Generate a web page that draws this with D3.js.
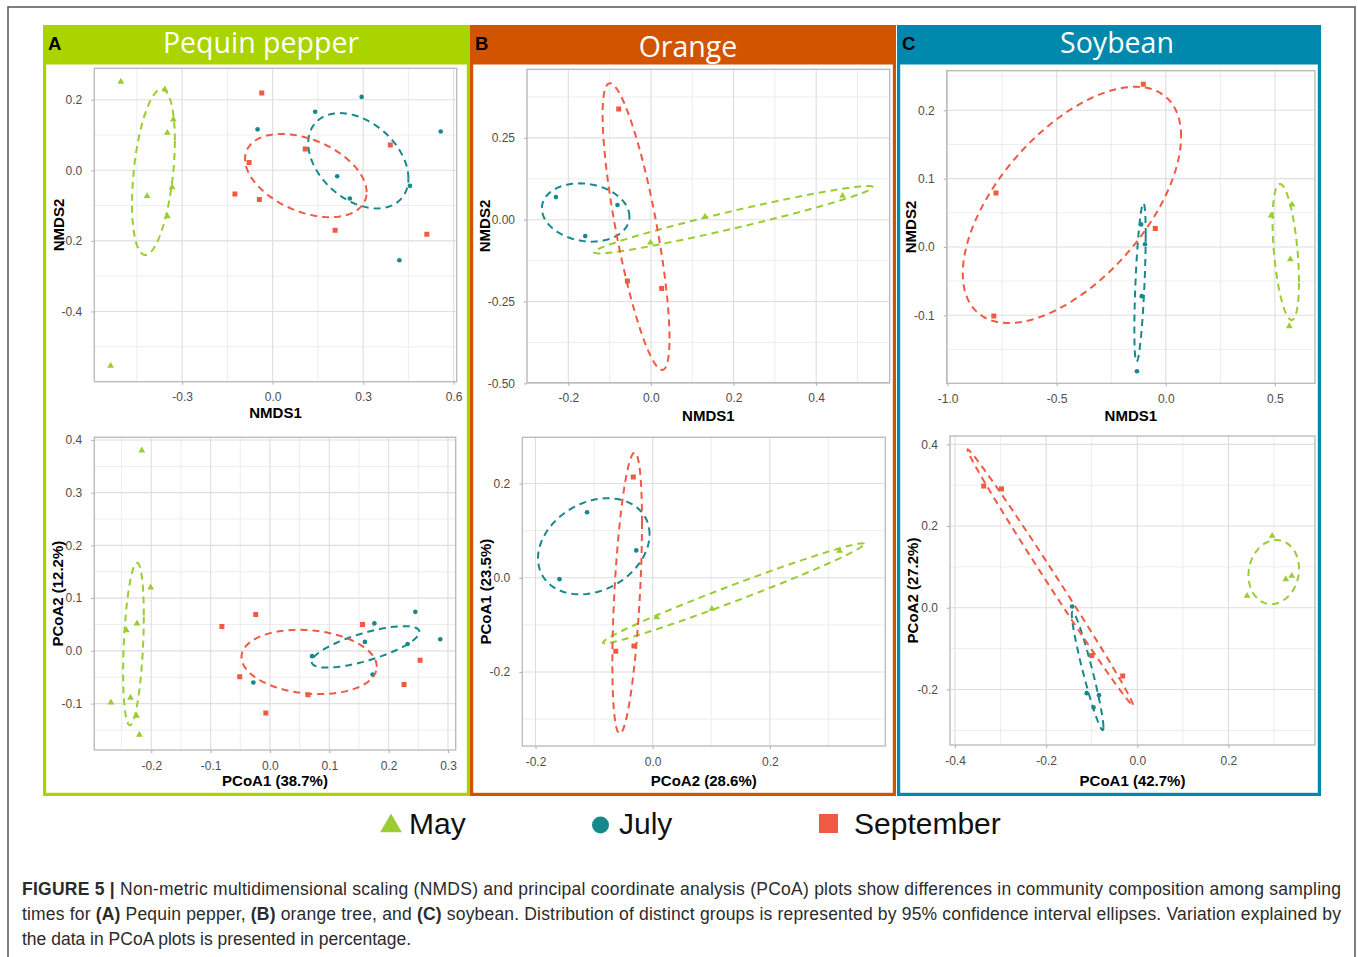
<!DOCTYPE html>
<html>
<head>
<meta charset="utf-8">
<script src="https://cdn.jsdelivr.net/npm/d3@7"></script>
<style>
  body { margin: 0; background: #fff; }
  svg text { font-family: "Liberation Sans", Arial, sans-serif; }
</style>
</head>
<body>
<svg id="fig" width="1358" height="957"></svg>
<script>
// ---- data ----
const groups = ["May", "July", "September"];

// A: Pequin pepper, NMDS
const pepperNmdsMay = [[-0.503, 0.251], [-0.357, 0.229], [-0.329, 0.144], [-0.349, 0.106], [-0.333, -0.048], [-0.416, -0.073], [-0.349, -0.130], [-0.537, -0.554]];
const pepperNmdsJuly = [[-0.050, 0.116], [0.141, 0.166], [0.295, 0.208], [0.557, 0.110], [0.214, -0.017], [0.455, -0.044], [0.256, -0.080], [0.420, -0.255]];
const pepperNmdsSeptember = [[-0.036, 0.219], [0.108, 0.060], [0.390, 0.072], [-0.078, 0.022], [-0.125, -0.067], [-0.044, -0.083], [0.207, -0.170], [0.511, -0.181]];
// ellipse: centre, half extent in x and y, correlation
const pepperNmdsEllipses = [
  { group: "May", cx: -0.395, cy: -0.005, hx: 0.071, hy: 0.235, r: 0.38 },
  { group: "July", cx: 0.284, cy: 0.027, hx: 0.166, hy: 0.135, r: -0.37 },
  { group: "September", cx: 0.110, cy: -0.015, hx: 0.2015, hy: 0.118, r: -0.40 }
];
const pepperNmdsXTicks = [-0.3, 0, 0.3, 0.6];
const pepperNmdsYTicks = [-0.4, -0.2, 0, 0.2];

// A: Pequin pepper, PCoA
const pepperPcoaMay = [[-0.216, 0.380], [-0.201, 0.120], [-0.224, 0.052], [-0.242, 0.039], [-0.268, -0.098], [-0.235, -0.089], [-0.225, -0.123], [-0.220, -0.159]];
const pepperPcoaJuly = [[0.245, 0.074], [0.176, 0.052], [0.160, 0.017], [0.287, 0.022], [0.232, 0.013], [0.071, -0.010], [0.173, -0.045], [-0.028, -0.060]];
const pepperPcoaSeptember = [[-0.024, 0.069], [-0.081, 0.046], [0.156, 0.050], [0.253, -0.018], [-0.051, -0.049], [0.064, -0.083], [0.226, -0.064], [-0.007, -0.118]];
const pepperPcoaEllipses = [
  { group: "May", cx: -0.230, cy: 0.013, hx: 0.0174, hy: 0.154, r: 0.35 },
  { group: "July", cx: 0.161, cy: 0.0076, hx: 0.0907, hy: 0.0393, r: 0.72 },
  { group: "September", cx: 0.066, cy: -0.021, hx: 0.114, hy: 0.061, r: -0.15 }
];
const pepperPcoaXTicks = [-0.2, -0.1, 0, 0.1, 0.2, 0.3];
const pepperPcoaYTicks = [-0.1, 0, 0.1, 0.2, 0.3, 0.4];

// B: Orange, NMDS
const orangeNmdsMay = [[-0.001, -0.070], [0.131, 0.009], [0.464, 0.073]];
const orangeNmdsJuly = [[-0.230, 0.069], [-0.081, 0.045], [-0.159, -0.050]];
const orangeNmdsSeptember = [[-0.078, 0.338], [-0.057, -0.187], [0.026, -0.210]];
const orangeNmdsEllipses = [
  { group: "May", cx: 0.1996, cy: 0.0, hx: 0.3375, hy: 0.103, r: 0.965 },
  { group: "July", cx: -0.158, cy: 0.022, hx: 0.106, hy: 0.089, r: -0.14 },
  { group: "September", cx: -0.036, cy: -0.021, hx: 0.081, hy: 0.438, r: -0.78 }
];
const orangeNmdsXTicks = [-0.2, 0, 0.2, 0.4];
const orangeNmdsYTicks = [-0.5, -0.25, 0, 0.25];

// B: Orange, PCoA
const orangePcoaMay = [[0.007, -0.084], [0.101, -0.066], [0.319, 0.057]];
const orangePcoaJuly = [[-0.112, 0.139], [-0.028, 0.058], [-0.159, -0.003]];
const orangePcoaSeptember = [[-0.033, 0.214], [-0.063, -0.156], [-0.032, -0.145]];
const orangePcoaEllipses = [
  { group: "May", cx: 0.138, cy: -0.033, hx: 0.2227, hy: 0.106, r: 0.985 },
  { group: "July", cx: -0.1005, cy: 0.0667, hx: 0.0952, hy: 0.102, r: 0.25 },
  { group: "September", cx: -0.0435, cy: -0.0325, hx: 0.0253, hy: 0.298, r: 0.5 }
];
const orangePcoaXTicks = [-0.2, 0, 0.2];
const orangePcoaYTicks = [-0.2, 0, 0.2];

// C: Soybean, NMDS
const soybeanNmdsMay = [[0.483, 0.046], [0.579, 0.062], [0.571, -0.018], [0.566, -0.116]];
const soybeanNmdsJuly = [[-0.113, 0.033], [-0.095, 0.004], [-0.110, -0.072], [-0.132, -0.182]];
const soybeanNmdsSeptember = [[-0.103, 0.238], [-0.778, 0.079], [-0.048, 0.027], [-0.788, -0.101]];
const soybeanNmdsEllipses = [
  { group: "May", cx: 0.550, cy: -0.0073, hx: 0.0605, hy: 0.0996, r: -0.44 },
  { group: "July", cx: -0.118, cy: -0.052, hx: 0.026, hy: 0.116, r: 0.6 },
  { group: "September", cx: -0.430, cy: 0.0615, hx: 0.5005, hy: 0.173, r: 0.58 }
];
const soybeanNmdsXTicks = [-1.0, -0.5, 0, 0.5];
const soybeanNmdsYTicks = [-0.1, 0, 0.1, 0.2];

// C: Soybean, PCoA
const soybeanPcoaMay = [[0.296, 0.176], [0.339, 0.078], [0.326, 0.070], [0.241, 0.029]];
const soybeanPcoaJuly = [[-0.143, 0.003], [-0.111, -0.209], [-0.084, -0.214], [-0.096, -0.244]];
const soybeanPcoaSeptember = [[-0.337, 0.298], [-0.298, 0.291], [-0.100, -0.117], [-0.032, -0.167]];
const soybeanPcoaEllipses = [
  { group: "May", cx: 0.2995, cy: 0.0874, hx: 0.0555, hy: 0.0784, r: 0.1 },
  { group: "July", cx: -0.109, cy: -0.1545, hx: 0.0347, hy: 0.145, r: -0.95 },
  { group: "September", cx: -0.191, cy: 0.0747, hx: 0.1816, hy: 0.313, r: -0.997 }
];
const soybeanPcoaXTicks = [-0.4, -0.2, 0, 0.2];
const soybeanPcoaYTicks = [-0.2, 0, 0.2, 0.4];

// ---- styles / layout ----
const groupColor = { May: "#9acd32", July: "#17898b", September: "#f15a42" };
const groupSymbol = { May: d3.symbolTriangle, July: d3.symbolCircle, September: d3.symbolSquare };
const pointSize = { May: 20, July: 17, September: 25 };

const panels = [
  { letter: "A", title: "Pequin pepper", color: "#aad400", left: 43, right: 470, titleX: 261, titleY: 53 },
  { letter: "B", title: "Orange", color: "#d35400", left: 470, right: 896, titleX: 688, titleY: 57 },
  { letter: "C", title: "Soybean", color: "#0088ad", left: 897, right: 1321, titleX: 1117, titleY: 53 }
];

const plots = [
  { rect: [94.3, 68.3, 456.7, 381.7], xDomain: [-0.591, 0.610], yDomain: [-0.599, 0.289],
    xTicks: pepperNmdsXTicks, yTicks: pepperNmdsYTicks, xDec: 1, yDec: 1,
    xTitle: "NMDS1", yTitle: "NMDS2", xTitleY: 418, yTitleX: 63.5,
    series: { May: pepperNmdsMay, July: pepperNmdsJuly, September: pepperNmdsSeptember }, ellipses: pepperNmdsEllipses },
  { rect: [94.3, 437.3, 455.7, 750], xDomain: [-0.296, 0.313], yDomain: [-0.188, 0.405],
    xTicks: pepperPcoaXTicks, yTicks: pepperPcoaYTicks, xDec: 1, yDec: 1,
    xTitle: "PCoA1 (38.7%)", yTitle: "PCoA2 (12.2%)", xTitleY: 786, yTitleX: 63.3,
    series: { May: pepperPcoaMay, July: pepperPcoaJuly, September: pepperPcoaSeptember }, ellipses: pepperPcoaEllipses },
  { rect: [527, 69.3, 889.7, 382.7], xDomain: [-0.300, 0.578], yDomain: [-0.498, 0.4595],
    xTicks: orangeNmdsXTicks, yTicks: orangeNmdsYTicks, xDec: 1, yDec: 2,
    xTitle: "NMDS1", yTitle: "NMDS2", xTitleY: 421, yTitleX: 489.7,
    series: { May: orangeNmdsMay, July: orangeNmdsJuly, September: orangeNmdsSeptember }, ellipses: orangeNmdsEllipses },
  { rect: [522.3, 437.3, 885.3, 746], xDomain: [-0.2225, 0.397], yDomain: [-0.357, 0.298],
    xTicks: orangePcoaXTicks, yTicks: orangePcoaYTicks, xDec: 1, yDec: 1,
    xTitle: "PCoA2 (28.6%)", yTitle: "PCoA1 (23.5%)", xTitleY: 786, yTitleX: 490.7,
    series: { May: orangePcoaMay, July: orangePcoaJuly, September: orangePcoaSeptember }, ellipses: orangePcoaEllipses },
  { rect: [946.7, 70.7, 1315, 383.3], xDomain: [-1.004, 0.684], yDomain: [-0.1996, 0.258],
    xTicks: soybeanNmdsXTicks, yTicks: soybeanNmdsYTicks, xDec: 1, yDec: 1,
    xTitle: "NMDS1", yTitle: "NMDS2", xTitleY: 421, yTitleX: 915.7,
    series: { May: soybeanNmdsMay, July: soybeanNmdsJuly, September: soybeanNmdsSeptember }, ellipses: soybeanNmdsEllipses },
  { rect: [950, 436, 1315, 745], xDomain: [-0.411, 0.390], yDomain: [-0.336, 0.4205],
    xTicks: soybeanPcoaXTicks, yTicks: soybeanPcoaYTicks, xDec: 1, yDec: 1,
    xTitle: "PCoA1 (42.7%)", yTitle: "PCoA2 (27.2%)", xTitleY: 786, yTitleX: 918.3,
    series: { May: soybeanPcoaMay, July: soybeanPcoaJuly, September: soybeanPcoaSeptember }, ellipses: soybeanPcoaEllipses }
];

const svg = d3.select("#fig");

// outer frame
svg.append("rect")
  .attr("x", 8).attr("y", 7).attr("width", 1347).attr("height", 970)
  .attr("fill", "none").attr("stroke", "#555").attr("stroke-width", 1.5);

// panel frames + headers
panels.forEach(p => {
  svg.append("rect")
    .attr("x", p.left + 1.6).attr("y", 26.6)
    .attr("width", p.right - p.left - 3.2).attr("height", 796 - 26.6 - 1.6)
    .attr("fill", "#fff").attr("stroke", p.color).attr("stroke-width", 3.2);
  svg.append("rect")
    .attr("x", p.left).attr("y", 25)
    .attr("width", p.right - p.left).attr("height", 39.5)
    .attr("fill", p.color);
  svg.append("text")
    .attr("x", p.left + 5).attr("y", 50)
    .attr("font-size", 18.5).attr("font-weight", "bold").attr("fill", "#000")
    .text(p.letter);
  svg.append("text")
    .attr("x", p.titleX).attr("y", p.titleY)
    .attr("text-anchor", "middle")
    .style("font-family", "'Open Sans', sans-serif")
    .attr("font-size", 28.5).attr("fill", "#fff")
    .text(p.title);
});

// minor grid positions: halfway between major ticks, inside the domain
function minorTicks(ticks, domain) {
  const step = ticks[1] - ticks[0];
  const out = [];
  for (let v = ticks[0] - step / 2; v <= domain[1] + 1e-9; v += step) {
    if (v >= domain[0] - 1e-9) out.push(v);
  }
  return out;
}

function ellipsePoints(e) {
  const s = Math.sqrt(1 - e.r * e.r);
  return d3.range(0, 101).map(i => {
    const t = (i / 100) * 2 * Math.PI;
    return [e.cx + e.hx * Math.cos(t), e.cy + e.hy * (e.r * Math.cos(t) + s * Math.sin(t))];
  });
}

plots.forEach((p, i) => {
  const [l, t, r, b] = p.rect;
  const x = d3.scaleLinear().domain(p.xDomain).range([l, r]);
  const y = d3.scaleLinear().domain(p.yDomain).range([b, t]);
  const g = svg.append("g");

  // grid
  const grid = g.append("g");
  grid.selectAll(".xminor").data(minorTicks(p.xTicks, p.xDomain)).join("line")
    .attr("x1", d => x(d)).attr("x2", d => x(d)).attr("y1", t).attr("y2", b)
    .attr("stroke", "#e8e8e8").attr("stroke-width", 0.8);
  grid.selectAll(".yminor").data(minorTicks(p.yTicks, p.yDomain)).join("line")
    .attr("y1", d => y(d)).attr("y2", d => y(d)).attr("x1", l).attr("x2", r)
    .attr("stroke", "#e8e8e8").attr("stroke-width", 0.8);
  grid.selectAll(".xmajor").data(p.xTicks).join("line")
    .attr("x1", d => x(d)).attr("x2", d => x(d)).attr("y1", t).attr("y2", b)
    .attr("stroke", "#dedede").attr("stroke-width", 1.1);
  grid.selectAll(".ymajor").data(p.yTicks).join("line")
    .attr("y1", d => y(d)).attr("y2", d => y(d)).attr("x1", l).attr("x2", r)
    .attr("stroke", "#dedede").attr("stroke-width", 1.1);

  // axes
  const xAxis = g.append("g")
    .attr("transform", `translate(0,${b})`)
    .call(d3.axisBottom(x).tickValues(p.xTicks).tickSize(3).tickPadding(8)
      .tickFormat(d => d.toFixed(p.xDec)));
  const yAxis = g.append("g")
    .attr("transform", `translate(${l},0)`)
    .call(d3.axisLeft(y).tickValues(p.yTicks).tickSize(3).tickPadding(9)
      .tickFormat(d => d.toFixed(p.yDec)));
  [xAxis, yAxis].forEach(a => {
    a.select(".domain").remove();
    a.attr("font-family", null).attr("font-size", null);
    a.selectAll(".tick line").attr("stroke", "#b3b3b3").attr("stroke-width", 1.1);
    a.selectAll(".tick text").attr("fill", "#4d4d4d").attr("font-size", 12);
  });

  // panel border
  g.append("rect")
    .attr("x", l).attr("y", t).attr("width", r - l).attr("height", b - t)
    .attr("fill", "none").attr("stroke", "#b8b8b8").attr("stroke-width", 1.3);

  // axis titles
  g.append("text")
    .attr("x", (l + r) / 2).attr("y", p.xTitleY)
    .attr("text-anchor", "middle").attr("font-size", 15).attr("font-weight", "bold")
    .attr("fill", "#000").text(p.xTitle);
  g.append("text")
    .attr("transform", `translate(${p.yTitleX},${(t + b) / 2}) rotate(-90)`)
    .attr("text-anchor", "middle").attr("font-size", 15).attr("font-weight", "bold")
    .attr("fill", "#000").text(p.yTitle);

  // clip
  const clipId = "clip" + i;
  g.append("clipPath").attr("id", clipId).append("rect")
    .attr("x", l).attr("y", t).attr("width", r - l).attr("height", b - t);
  const inner = g.append("g").attr("clip-path", `url(#${clipId})`);

  // points
  groups.forEach(grp => {
    inner.selectAll(null).data(p.series[grp]).join("path")
      .attr("transform", d => `translate(${x(d[0])},${y(d[1])})`)
      .attr("d", d3.symbol().type(groupSymbol[grp]).size(pointSize[grp]))
      .attr("fill", groupColor[grp]);
  });

  // ellipses
  const line = d3.line().x(d => x(d[0])).y(d => y(d[1]));
  inner.selectAll(".ell").data(p.ellipses).join("path")
    .attr("d", e => line(ellipsePoints(e)))
    .attr("fill", "none")
    .attr("stroke", e => groupColor[e.group])
    .attr("stroke-width", 2)
    .attr("stroke-dasharray", "7,5");
});

// legend
const legendItems = [
  { group: "May", sx: 391, sy: 826, size: 204, tx: 409 },
  { group: "July", sx: 600.5, sy: 825, size: 227, tx: 619 },
  { group: "September", sx: 828.5, sy: 823.5, size: 361, tx: 854 }
];
legendItems.forEach(it => {
  svg.append("path")
    .attr("transform", `translate(${it.sx},${it.sy})`)
    .attr("d", d3.symbol().type(groupSymbol[it.group]).size(it.size))
    .attr("fill", groupColor[it.group]);
  svg.append("text")
    .attr("x", it.tx).attr("y", 834)
    .attr("font-size", 30).attr("fill", "#111")
    .text(it.group);
});

// caption
const cap = svg.append("g").attr("fill", "#2b2b2b").attr("font-size", 17.5);
const l1 = cap.append("text").attr("x", 22).attr("y", 895)
  .attr("textLength", 1319).attr("lengthAdjust", "spacing");
l1.append("tspan").attr("font-weight", "bold").text("FIGURE 5 |");
l1.append("tspan").text(" Non-metric multidimensional scaling (NMDS) and principal coordinate analysis (PCoA) plots show differences in community composition among sampling");
const l2 = cap.append("text").attr("x", 22).attr("y", 920)
  .attr("textLength", 1319).attr("lengthAdjust", "spacing");
[["times for ", false], ["(A)", true], [" Pequin pepper, ", false], ["(B)", true], [" orange tree, and ", false], ["(C)", true],
 [" soybean. Distribution of distinct groups is represented by 95% confidence interval ellipses. Variation explained by", false]]
  .forEach(([s, bold]) => l2.append("tspan").attr("font-weight", bold ? "bold" : null).text(s));
cap.append("text").attr("x", 22).attr("y", 945)
  .text("the data in PCoA plots is presented in percentage.");
</script>
</body>
</html>
